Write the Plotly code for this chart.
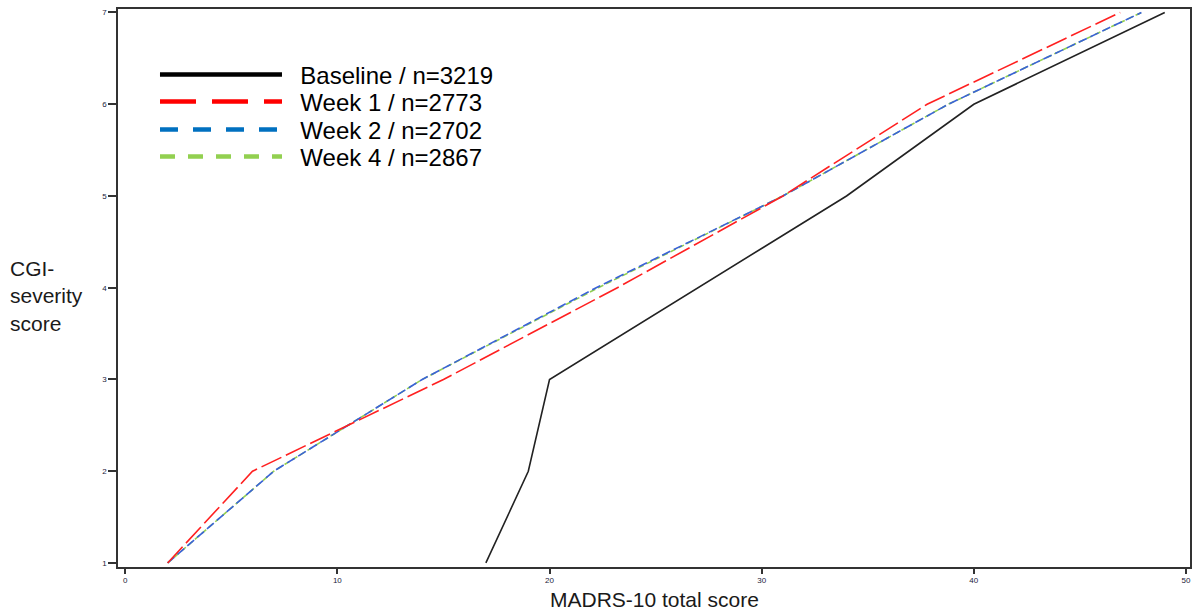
import plotly.graph_objects as go

# CGI-severity levels (y) and the MADRS-10 score read for each level (x)
cgi_levels = [1, 2, 3, 4, 5, 6, 7]
baseline_madrs = [17, 19, 20, 27, 34, 40, 49]
week1_madrs = [2, 6, 15, 23.2, 31, 37.8, 46.9]
week2_madrs = [2, 7, 14, 22.2, 31, 38.8, 47.9]
week4_madrs = [2, 7, 14, 22.3, 31, 38.8, 47.9]

series_names = ["Baseline / n=3219", "Week 1 / n=2773", "Week 2 / n=2702", "Week 4 / n=2867"]
x_ticks = [0, 10, 20, 30, 40, 50]
y_ticks = [1, 2, 3, 4, 5, 6, 7]

FONT = "Liberation Sans, Arial, sans-serif"

fig = go.Figure()

# plotted lines (thin), drawn so that week 4 sits under week 2
plot_series = [
    (baseline_madrs, "#222222", "solid", 1.6),
    (week4_madrs, "#92D050", "6px,3px", 1.6),
    (week2_madrs, "#3A62D8", "9px,4px", 1.6),
    (week1_madrs, "#FF2020", "22px,5px", 1.6),
]
for xs, col, dash, w in plot_series:
    fig.add_trace(go.Scatter(x=xs, y=cgi_levels, mode="lines",
                             line=dict(color=col, dash=dash, width=w),
                             showlegend=False, hoverinfo="x+y"))

# legend entries (thick lines, as in the reference legend), one legend per row
legend_styles = [
    ("#000000", "solid"),
    ("#FF0000", "36px,16px"),
    ("#0070C0", "18px,15px"),
    ("#92D050", "15px,13px"),
]
legend_ids = ["legend", "legend2", "legend3", "legend4"]
legend_rows_y = [0.8817, 0.8333, 0.7832, 0.7348]
for name, (col, dash), lid in zip(series_names, legend_styles, legend_ids):
    fig.add_trace(go.Scatter(x=[None], y=[None], mode="lines",
                             name="\u00a0\u00a0" + name, legend=lid,
                             line=dict(color=col, dash=dash, width=4.5)))

axis_common = dict(showline=True, linecolor="#333333", linewidth=1.5, mirror=True,
                   showgrid=False, zeroline=False, ticks="outside",
                   tickcolor="#333333", tickwidth=1.5,
                   tickfont=dict(family=FONT, size=8, color="#1a1a3a"))

fig.update_xaxes(range=[-0.34, 50.19], tickvals=x_ticks, ticklen=5, **axis_common)
fig.update_yaxes(range=[0.956, 7.038], tickvals=y_ticks, ticklen=8, **axis_common)

fig.add_annotation(text="MADRS-10 total score", xref="paper", yref="paper",
                   x=0.5, y=0, yshift=-46, xanchor="center", yanchor="bottom",
                   showarrow=False, font=dict(family=FONT, size=21, color="#1a1a1a"))
fig.add_annotation(text="CGI-<br>severity<br>score", xref="paper", yref="paper",
                   x=0, xshift=-110, y=0.4857, yanchor="middle", xanchor="left", align="left",
                   showarrow=False, font=dict(family=FONT, size=21, color="#1a1a1a"))

legend_common = dict(x=0.0345, xanchor="left", yanchor="middle",
                     bgcolor="rgba(0,0,0,0)", itemwidth=122,
                     font=dict(family=FONT, size=24, color="#000000"))
layout_legends = {lid: dict(y=ly, **legend_common) for lid, ly in zip(legend_ids, legend_rows_y)}

fig.update_layout(
    width=1197, height=614,
    margin=dict(l=118, r=5, t=9, b=47),
    paper_bgcolor="white", plot_bgcolor="white",
    **layout_legends,
)

# remove the default page margin so the figure fills the window exactly
fig.write_html("out.html",
               config={"displayModeBar": False},
               post_script="document.body.style.margin='0';document.body.style.overflow='hidden';")
